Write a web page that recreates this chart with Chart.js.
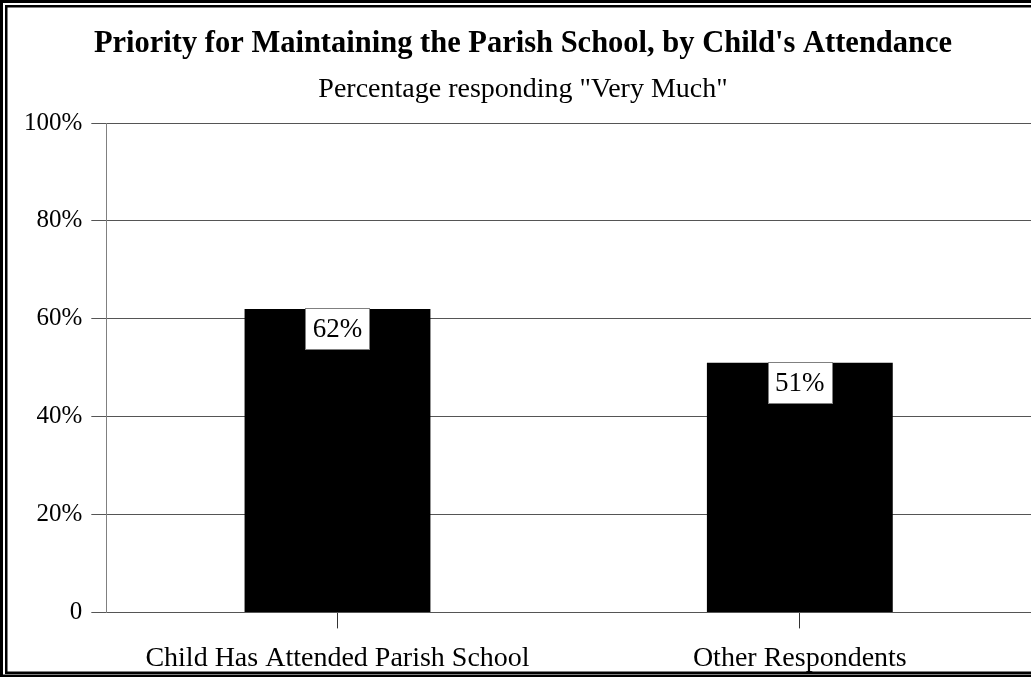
<!DOCTYPE html>
<html>
<head>
<meta charset="utf-8">
<script src="https://cdn.jsdelivr.net/npm/chart.js@4.4.0/dist/chart.umd.min.js"></script>
<style>
html,body{margin:0;padding:0;background:#fff;overflow:hidden;}
#wrap{position:absolute;left:0;top:0;width:1031px;height:677px;}
</style>
</head>
<body>
<div id="wrap"><canvas id="c" width="1031" height="677"></canvas></div>
<script>
const titleText = "Priority for Maintaining the Parish School, by Child's Attendance";
const subtitleText = 'Percentage responding "Very Much"';
const categories = ["Child Has Attended Parish School", "Other Respondents"];
const values = [62, 51];
const valueLabels = ["62%", "51%"];
const yTickLabels = ["0", "20%", "40%", "60%", "80%", "100%"];

const SERIF = '"Liberation Serif", "Times New Roman", serif';

const borderPlugin = {
  id: 'frame',
  beforeDraw(chart) {
    const ctx = chart.ctx;
    ctx.save();
    ctx.fillStyle = '#fff';
    ctx.fillRect(0, 0, chart.width, chart.height);
    ctx.restore();
  },
  afterDraw(chart) {
    const ctx = chart.ctx, W = chart.width, H = chart.height;
    ctx.save();
    ctx.fillStyle = '#000';
    ctx.fillRect(0, 0, W, 3);
    ctx.fillRect(0, 0, 3, H);
    ctx.fillRect(0, H - 2.5, W, 2.5);
    ctx.fillRect(5, 5, W - 5, 2.5);
    ctx.fillRect(5, 5, 2.5, H - 10);
    ctx.fillRect(5, H - 5.5, W - 5, 2.5);
    ctx.restore();
  }
};

const labelPlugin = {
  id: 'valueBoxes',
  afterDatasetsDraw(chart) {
    const ctx = chart.ctx;
    const meta = chart.getDatasetMeta(0);
    ctx.save();
    ctx.font = '27px ' + SERIF;
    ctx.textAlign = 'center';
    ctx.textBaseline = 'middle';
    meta.data.forEach((bar, i) => {
      const w = 64, h = 41;
      const x = Math.round(bar.x - w / 2) + 0.5;
      const y = Math.round(bar.y) - 0.5;
      ctx.fillStyle = '#fff';
      ctx.fillRect(x, y, w, h);
      ctx.strokeStyle = '#808080';
      ctx.lineWidth = 1;
      ctx.strokeRect(x, y, w, h);
      ctx.fillStyle = '#000';
      ctx.fillText(valueLabels[i], bar.x, y + h / 2 + 1);
    });
    ctx.restore();
  }
};

new Chart(document.getElementById('c'), {
  type: 'bar',
  data: {
    labels: categories,
    datasets: [{
      data: values,
      backgroundColor: '#000',
      borderWidth: 0,
      categoryPercentage: 1,
      barPercentage: 0.402
    }]
  },
  options: {
    responsive: false,
    animation: false,
    devicePixelRatio: 1,
    layout: { padding: { top: 0, left: 15, right: 0, bottom: -11 } },
    plugins: {
      legend: { display: false },
      tooltip: { enabled: false },
      title: {
        display: true,
        text: titleText,
        color: '#000',
        font: { family: SERIF, size: 30.5, weight: 'bold', lineHeight: 1.2 },
        padding: { top: 26, bottom: 10.6 }
      },
      subtitle: {
        display: true,
        text: subtitleText,
        color: '#000',
        font: { family: SERIF, size: 28, weight: 'normal', lineHeight: 1.2 },
        padding: { top: 0, bottom: 16.2 }
      }
    },
    scales: {
      x: {
        offset: true,
        grid: {
          offset: false,
          drawOnChartArea: false,
          drawTicks: true,
          tickLength: 16,
          color: '#333',
          lineWidth: 1
        },
        border: { display: true, color: '#555', width: 1 },
        ticks: {
          color: '#000',
          font: { family: SERIF, size: 28, lineHeight: 1.2 },
          padding: 13,
          maxRotation: 0,
          autoSkip: false
        }
      },
      y: {
        min: 0,
        max: 100,
        grid: {
          color: '#555',
          lineWidth: 1,
          drawTicks: true,
          tickLength: 15
        },
        border: { display: true, color: '#808080', width: 1 },
        ticks: {
          stepSize: 20,
          color: '#000',
          font: { family: SERIF, size: 25, lineHeight: 1.2 },
          padding: 9,
          callback: (v, i) => yTickLabels[i]
        }
      }
    }
  },
  plugins: [borderPlugin, labelPlugin]
});
</script>
</body>
</html>
